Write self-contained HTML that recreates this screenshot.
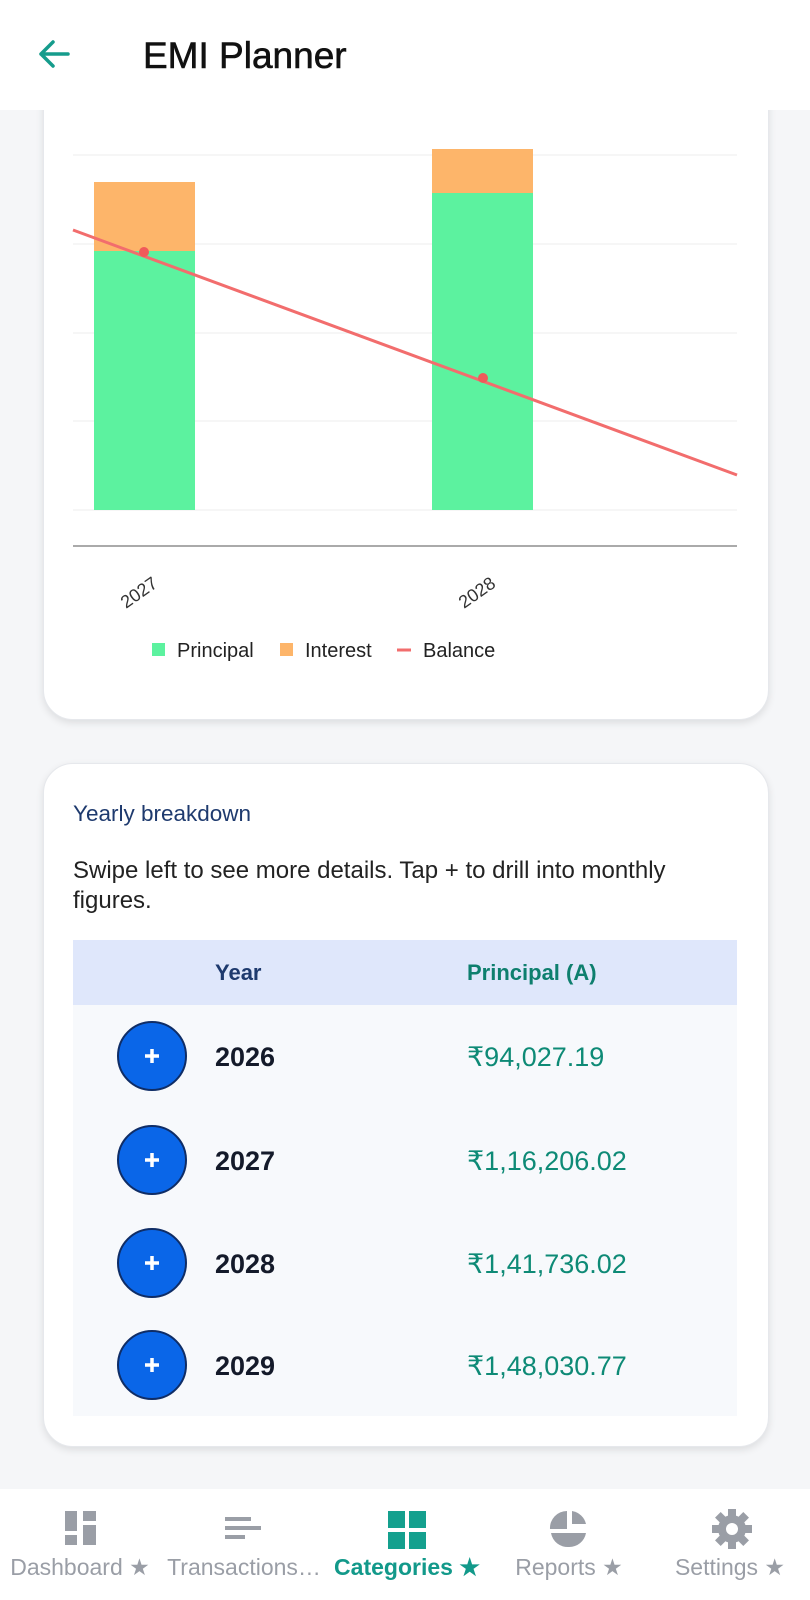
<!DOCTYPE html>
<html><head><meta charset="utf-8"><style>
body{margin:0;width:810px;height:1600px;background:#f5f6f8;font-family:"Liberation Sans",sans-serif;position:relative;overflow:hidden}
.hdr{position:absolute;left:0;top:0;width:810px;height:110px;background:#fff;z-index:2}
.card{position:absolute;left:43px;width:724px;background:#fff;border-radius:30px;box-shadow:0 3px 8px rgba(0,0,0,.1);border:1px solid #e6e8ec}
.abs{position:absolute;white-space:nowrap}
.nav{position:absolute;left:0;top:1489px;width:810px;height:111px;background:#fff}
.lbl{position:absolute;top:65px;font-size:23px;color:#9a9ea6;transform:translateX(-50%);white-space:nowrap}
</style></head><body>
<div class="hdr">
<svg class="abs" style="left:36px;top:38px" width="36" height="32"><path d="M32 16H5M17 4L5 16l12 12" stroke="#159c8c" stroke-width="3.5" fill="none" stroke-linecap="round" stroke-linejoin="round"/></svg>
<div class="abs" style="left:143px;top:35px;font-size:37px;color:#111;-webkit-text-stroke:0.6px #111">EMI Planner</div>
</div>
<div class="card" style="top:60px;height:658px"></div>
<svg class="abs" style="left:0;top:0" width="810" height="720">
<g stroke="#ececec" stroke-width="1"><line x1="73" x2="737" y1="155" y2="155"/><line x1="73" x2="737" y1="244" y2="244"/><line x1="73" x2="737" y1="333" y2="333"/><line x1="73" x2="737" y1="421" y2="421"/><line x1="73" x2="737" y1="510" y2="510"/></g>
<line x1="73" x2="737" y1="546" y2="546" stroke="#555" stroke-width="1"/>
<rect x="94" y="182" width="101" height="70" fill="#fdb56a"/><rect x="94" y="251" width="101" height="259" fill="#5cf29f"/>
<rect x="432" y="149" width="101" height="45" fill="#fdb56a"/><rect x="432" y="193" width="101" height="317" fill="#5cf29f"/>
<line x1="73" y1="230" x2="737" y2="475" stroke="#f26d6d" stroke-width="3"/>
<circle cx="144" cy="252" r="5" fill="#f05a5a"/><circle cx="483" cy="378" r="5" fill="#f05a5a"/>
<text x="0" y="0" font-size="18" fill="#333" transform="translate(126,609) rotate(-35)">2027</text>
<text x="0" y="0" font-size="18" fill="#333" transform="translate(464,609) rotate(-35)">2028</text>
<rect x="152" y="643" width="13" height="13" fill="#5cf29f"/><text x="177" y="657" font-size="20" fill="#222">Principal</text>
<rect x="280" y="643" width="13" height="13" fill="#fdb56a"/><text x="305" y="657" font-size="20" fill="#222">Interest</text>
<line x1="397" x2="411" y1="650" y2="650" stroke="#f26d6d" stroke-width="3"/><text x="423" y="657" font-size="20" fill="#222">Balance</text>
</svg>
<div class="card" style="top:763px;height:682px"></div>
<div class="abs" style="left:73px;top:801px;font-size:22.5px;color:#1e3a6e">Yearly breakdown</div>
<div class="abs" style="left:73px;top:856px;font-size:24px;color:#222;line-height:30px">Swipe left to see more details. Tap + to drill into monthly<br>figures.</div>
<div class="abs" style="left:73px;top:940px;width:664px;height:65px;background:#dfe7fb"></div>
<div class="abs" style="left:215px;top:960px;font-size:22px;font-weight:bold;color:#1e3a6e">Year</div>
<div class="abs" style="left:467px;top:960px;font-size:22px;font-weight:bold;color:#0e7f6e">Principal (A)</div>
<div class="abs" style="left:73px;top:1005px;width:664px;height:411px;background:#f7f9fc"></div>
<svg class="abs" style="left:0;top:0" width="810" height="1420">
<g fill="#0a66e8" stroke="#0f2d66" stroke-width="2"><circle cx="152" cy="1056" r="34"/><circle cx="152" cy="1160" r="34"/><circle cx="152" cy="1263" r="34"/><circle cx="152" cy="1365" r="34"/></g>
<g stroke="#fff" stroke-width="3.5"><path d="M145 1056h14M152 1049v14M145 1160h14M152 1153v14M145 1263h14M152 1256v14M145 1365h14M152 1358v14"/></g>
<g font-size="27" font-weight="bold" fill="#141a2a"><text x="215" y="1066">2026</text><text x="215" y="1170">2027</text><text x="215" y="1273">2028</text><text x="215" y="1375">2029</text></g>
<g font-size="27" fill="#0e8a76" font-family="Liberation Sans,DejaVu Sans,sans-serif"><text x="467" y="1066">₹94,027.19</text><text x="467" y="1170">₹1,16,206.02</text><text x="467" y="1273">₹1,41,736.02</text><text x="467" y="1375">₹1,48,030.77</text></g>
</svg>
<div class="nav">
<svg class="abs" style="left:0;top:0" width="810" height="60">
<g fill="#9a9ea6"><rect x="65" y="22" width="12" height="20"/><rect x="65" y="46" width="12" height="10"/><rect x="83" y="22" width="13" height="10"/><rect x="83" y="36" width="13" height="20"/>
<rect x="225" y="28" width="26" height="4"/><rect x="225" y="37" width="36" height="4"/><rect x="225" y="46" width="20" height="4"/>
<path d="M567 22v18h-17a17 17 0 0 1 17-18z"/><path d="M572 22a17 17 0 0 1 14 13h-14z"/><path d="M551 44h35a17 17 0 0 1-17 14h0a17 17 0 0 1-18-14z"/>
</g>
<g fill="#14a08e"><rect x="388" y="22" width="17" height="17"/><rect x="409" y="22" width="17" height="17"/><rect x="388" y="43" width="17" height="17"/><rect x="409" y="43" width="17" height="17"/></g>
<g transform="translate(732,40)"><circle r="14" fill="#9a9ea6"/><g fill="#9a9ea6"><rect x="-4" y="-20" width="8" height="40"/><rect x="-4" y="-20" width="8" height="40" transform="rotate(45)"/><rect x="-4" y="-20" width="8" height="40" transform="rotate(90)"/><rect x="-4" y="-20" width="8" height="40" transform="rotate(135)"/></g><circle r="6" fill="#fff"/></g>
</svg>
<div class="lbl" style="left:80px">Dashboard ★</div>
<div class="lbl" style="left:244px">Transactions…</div>
<div class="lbl" style="left:407px;color:#12998a;font-weight:bold">Categories ★</div>
<div class="lbl" style="left:569px">Reports ★</div>
<div class="lbl" style="left:730px">Settings ★</div>
</div>
</body></html>
